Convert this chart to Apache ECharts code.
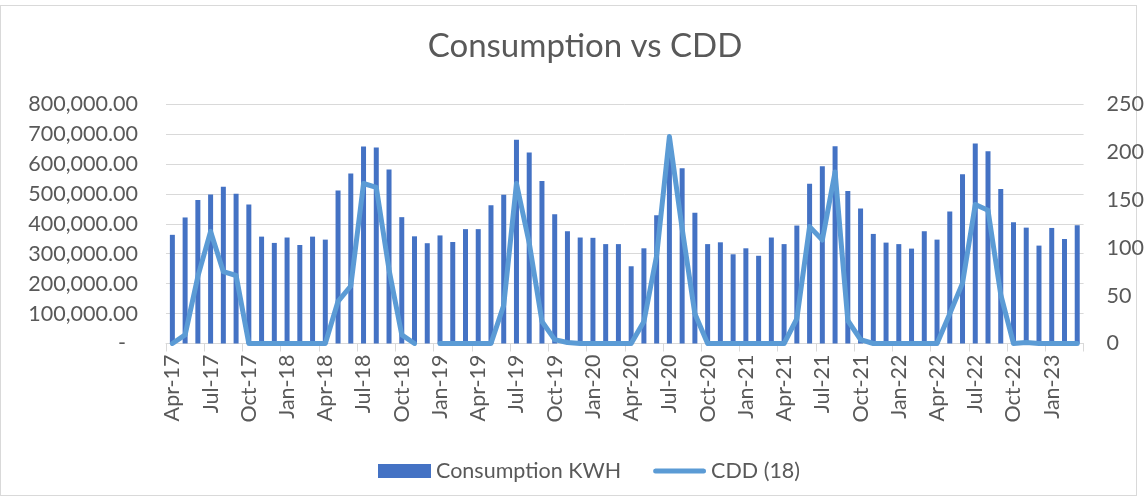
<!DOCTYPE html>
<html>
<head>
<meta charset="utf-8">
<script src="https://cdn.jsdelivr.net/npm/echarts@6/dist/echarts.min.js"></script>
<style>
html,body{margin:0;padding:0;background:#fff;}
#frame{position:absolute;left:0;top:5px;width:1137px;height:491px;border:1px solid #D9D9D9;box-sizing:border-box;}
#chart{position:absolute;left:0;top:0;width:1147px;height:502px;}
</style>
</head>
<body>
<div id="frame"></div>
<div id="chart"></div>
<script>
const months = ['Apr-17','May-17','Jun-17','Jul-17','Aug-17','Sep-17','Oct-17','Nov-17','Dec-17',
'Jan-18','Feb-18','Mar-18','Apr-18','May-18','Jun-18','Jul-18','Aug-18','Sep-18','Oct-18','Nov-18','Dec-18',
'Jan-19','Feb-19','Mar-19','Apr-19','May-19','Jun-19','Jul-19','Aug-19','Sep-19','Oct-19','Nov-19','Dec-19',
'Jan-20','Feb-20','Mar-20','Apr-20','May-20','Jun-20','Jul-20','Aug-20','Sep-20','Oct-20','Nov-20','Dec-20',
'Jan-21','Feb-21','Mar-21','Apr-21','May-21','Jun-21','Jul-21','Aug-21','Sep-21','Oct-21','Nov-21','Dec-21',
'Jan-22','Feb-22','Mar-22','Apr-22','May-22','Jun-22','Jul-22','Aug-22','Sep-22','Oct-22','Nov-22','Dec-22',
'Jan-23','Feb-23','Mar-23'];

const consumptionKWH = [363000,421000,479000,498000,524000,500000,464000,357000,336000,
354000,329000,357000,347000,511000,568000,658000,655000,581000,422000,358000,335000,
361000,339000,382000,382000,462000,497000,681000,638000,543000,432000,375000,354000,
353000,332000,332000,258000,318000,428000,670000,585000,437000,332000,338000,298000,
318000,293000,354000,332000,394000,534000,592000,659000,509000,451000,366000,337000,
332000,317000,375000,347000,441000,565000,668000,642000,516000,405000,387000,327000,
386000,349000,395000];

const cdd18 = [0,9,70,117,75,71,0,0,0,
0,0,0,0,44,60,167,163,77,9,0,null,
0,0,0,0,0,40,167,105,23,4,1,0,
0,0,0,0,23,92,216,120,31,0,0,0,
0,0,0,0,26,122,108,179,24,4,0,0,
0,0,0,0,31,63,145,139,51,0,1,0,
0,0,0];

const leftTicks = {min:0, max:800000, interval:100000};
const rightTicks = {min:0, max:250, interval:50};

const txt = '#595959';
const font = 'Lato, "Liberation Sans", sans-serif';
const fs = 21.5;
const lineIcon = 'path://M0,0h0.01v0.01h-0.01z M2.5,4.5h51a2.5,2.5 0 0 1 0,5h-51a2.5,2.5 0 0 1 0,-5z M55.99,13.99h0.01v0.01h-0.01z';
const chart = echarts.init(document.getElementById('chart'), null, {renderer:'canvas'});
chart.setOption({
  animation:false,
  backgroundColor:'transparent',
  textStyle:{fontFamily:font,color:txt},
  title:{text:'Consumption vs CDD',left:580,top:25,textAlign:'center',
    textStyle:{fontFamily:font,fontSize:33,fontWeight:'normal',color:txt}},
  legend:{top:455,left:373,itemWidth:53,itemHeight:14,itemGap:32,symbolKeepAspect:false,
    textStyle:{fontFamily:font,fontSize:fs,color:txt},
    data:[{name:'Consumption KWH',icon:'rect'},
          {name:'CDD (18)',icon:lineIcon,itemStyle:{color:'#5B9BD5',borderWidth:0}}]},
  grid:{left:166,right:62,top:104,bottom:158.5,containLabel:false},
  xAxis:{type:'category',data:months,boundaryGap:true,
    axisLine:{lineStyle:{color:'#D9D9D9',width:1}},
    axisTick:{show:true,interval:2,length:8,lineStyle:{color:'#D9D9D9'}},
    axisLabel:{interval:2,rotate:90,margin:11,fontSize:fs,color:txt,fontFamily:font}},
  yAxis:[{type:'value',min:leftTicks.min,max:leftTicks.max,interval:leftTicks.interval,
      axisLine:{show:false},axisTick:{show:false},
      splitLine:{lineStyle:{color:'#D9D9D9',width:1}},
      axisLabel:{margin:28,fontSize:fs,color:txt,fontFamily:font,
        formatter:function(v){ if(v===0) return '{d|-}'; return v.toLocaleString('en-US',{minimumFractionDigits:2,maximumFractionDigits:2});},
        rich:{d:{fontSize:fs,color:txt,fontFamily:font,padding:[0,12,0,0]}}}},
    {type:'value',min:rightTicks.min,max:rightTicks.max,interval:rightTicks.interval,position:'right',
      axisLine:{show:false},axisTick:{show:false},splitLine:{show:false},
      axisLabel:{margin:23,fontSize:fs,color:txt,fontFamily:font}}],
  series:[
    {name:'Consumption KWH',type:'bar',data:consumptionKWH,barWidth:5,yAxisIndex:0,
      itemStyle:{color:'#4472C4'}},
    {name:'CDD (18)',type:'line',data:cdd18,yAxisIndex:1,showSymbol:false,symbol:'none',connectNulls:false,
      lineStyle:{color:'#5B9BD5',width:5,cap:'round',join:'round'},itemStyle:{color:'#5B9BD5',borderWidth:0}}
  ]
});
</script>
</body>
</html>
